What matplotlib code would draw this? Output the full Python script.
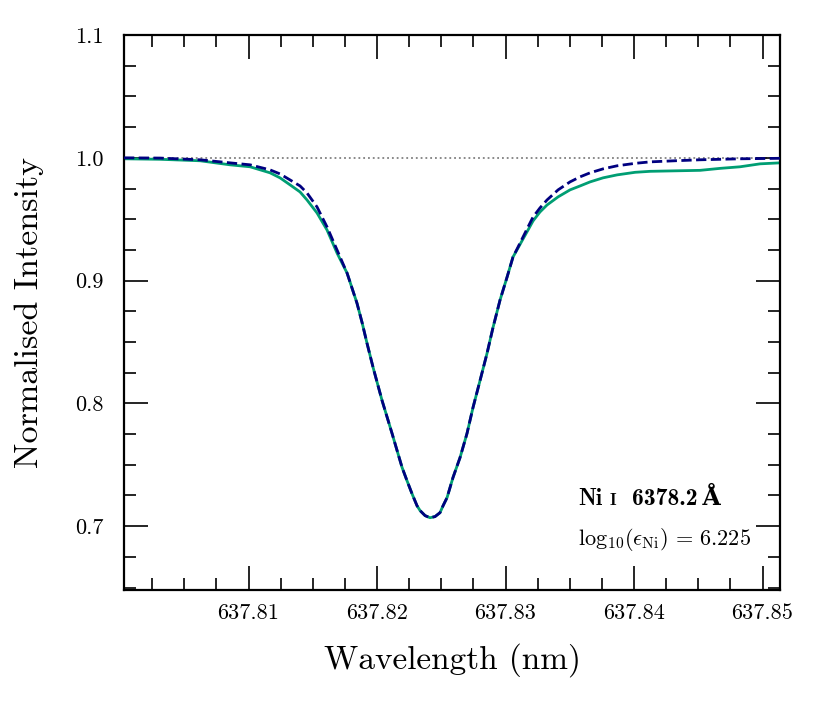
import matplotlib
matplotlib.use('Agg')
import matplotlib.pyplot as plt
from matplotlib.ticker import MultipleLocator, FormatStrFormatter

plt.rcParams['font.family'] = 'serif'
plt.rcParams['font.serif'] = ['cmr10', 'DejaVu Serif']
plt.rcParams['mathtext.fontset'] = 'cm'
plt.rcParams['axes.formatter.use_mathtext'] = True

# synthetic (model) profile
wl_model = [637.80031, 637.80311, 637.80623, 637.80856, 637.81012, 637.81167,
            637.81245, 637.81323, 637.81401, 637.81455, 637.81533, 637.81611,
            637.81689, 637.81767, 637.81844, 637.81883, 637.81922, 637.81969,
            637.82039, 637.82117, 637.82156, 637.82195, 637.82233, 637.82272,
            637.82311, 637.82335, 637.82374, 637.82412, 637.82451, 637.82490,
            637.82514, 637.82545, 637.82591, 637.82646, 637.82700, 637.82747,
            637.82802, 637.82856, 637.82903, 637.82957, 637.83012, 637.83058,
            637.83097, 637.83136, 637.83175, 637.83214, 637.83268, 637.83323,
            637.83409, 637.83502, 637.83580, 637.83658, 637.83759, 637.83868,
            637.84008, 637.84125, 637.84319, 637.84514, 637.84825, 637.85136]
int_model = [1.0000, 0.9998, 0.9984, 0.9959, 0.9943, 0.9902,
             0.9869, 0.9820, 0.9771, 0.9714, 0.9600, 0.9437,
             0.9249, 0.9061, 0.8816, 0.8661, 0.8490, 0.8294,
             0.8024, 0.7755, 0.7616, 0.7478, 0.7371, 0.7265,
             0.7167, 0.7127, 0.7086, 0.7069, 0.7078, 0.7110,
             0.7167, 0.7233, 0.7396, 0.7559, 0.7755, 0.7967,
             0.8188, 0.8408, 0.8620, 0.8841, 0.9029, 0.9192,
             0.9273, 0.9355, 0.9437, 0.9518, 0.9592, 0.9657,
             0.9739, 0.9804, 0.9845, 0.9878, 0.9910, 0.9935,
             0.9955, 0.9967, 0.9976, 0.9984, 0.9992, 0.9996]

# observed profile
wl_obs = [637.80031, 637.80311, 637.80623, 637.80856, 637.81012, 637.81167,
          637.81245, 637.81323, 637.81401, 637.81455, 637.81533, 637.81611,
          637.81689, 637.81767, 637.81844, 637.81883, 637.81922, 637.81969,
          637.82039, 637.82117, 637.82156, 637.82195, 637.82233, 637.82272,
          637.82311, 637.82335, 637.82374, 637.82412, 637.82451, 637.82490,
          637.82514, 637.82545, 637.82591, 637.82646, 637.82700, 637.82747,
          637.82802, 637.82856, 637.82903, 637.82957, 637.83012, 637.83058,
          637.83097, 637.83136, 637.83175, 637.83214, 637.83268, 637.83323,
          637.83409, 637.83502, 637.83580, 637.83658, 637.83759, 637.83868,
          637.84008, 637.84125, 637.84319, 637.84514, 637.84669, 637.84825,
          637.84981, 637.85136]
int_obs = [0.9992, 0.9988, 0.9976, 0.9943, 0.9927, 0.9878,
           0.9837, 0.9780, 0.9722, 0.9657, 0.9551, 0.9412,
           0.9224, 0.9061, 0.8816, 0.8661, 0.8490, 0.8294,
           0.8024, 0.7755, 0.7616, 0.7478, 0.7371, 0.7265,
           0.7167, 0.7127, 0.7086, 0.7069, 0.7078, 0.7110,
           0.7167, 0.7233, 0.7396, 0.7559, 0.7755, 0.7967,
           0.8188, 0.8408, 0.8620, 0.8841, 0.9029, 0.9192,
           0.9265, 0.9339, 0.9412, 0.9486, 0.9559, 0.9616,
           0.9682, 0.9739, 0.9771, 0.9804, 0.9837, 0.9861,
           0.9882, 0.9890, 0.9894, 0.9898, 0.9914, 0.9927,
           0.9951, 0.9959]

continuum = 1.0
species = 'Ni'
ion = 'I'
line_wl = '6378.2'
abundance = 6.225

fig = plt.figure(figsize=(8.3, 7.12), dpi=100)
ax = fig.add_axes([0.1494, 0.1713, 0.7904, 0.7795])

ax.axhline(continuum, color='gray', ls=':', lw=1.3, zorder=1)
ax.plot(wl_obs, int_obs, color='#009E73', lw=2.0, zorder=2)
ax.plot(wl_model, int_model, color='navy', lw=2.0, ls='--', zorder=3)

ax.set_xlim(min(wl_obs), max(wl_obs))
ax.set_ylim(0.648, 1.1)

ax.xaxis.set_major_locator(MultipleLocator(0.01))
ax.xaxis.set_minor_locator(MultipleLocator(0.0025))
ax.yaxis.set_major_locator(MultipleLocator(0.1))
ax.yaxis.set_minor_locator(MultipleLocator(0.025))
ax.xaxis.set_major_formatter(FormatStrFormatter('%.2f'))
ax.yaxis.set_major_formatter(FormatStrFormatter('%.1f'))

ax.tick_params(which='both', direction='in', top=True, right=True,
               labelsize=16)
ax.tick_params(axis='x', which='both', pad=10)
ax.tick_params(axis='y', which='both', pad=15)
ax.tick_params(which='major', length=17, width=1.2)
ax.tick_params(which='minor', length=8.5, width=1.2)
for sp in ax.spines.values():
    sp.set_linewidth(1.6)

ax.set_xlabel('Wavelength (nm)', fontsize=24, labelpad=14)
ax.set_ylabel('Normalised Intensity', fontsize=24.5, labelpad=22)

# line annotation
bold = dict(transform=ax.transAxes, va='baseline', fontweight='bold',
            family=['cmb10', 'DejaVu Serif'])
ax.text(0.692, 0.153, species, fontsize=16.5, **bold)
ax.text(0.740, 0.153, ion, fontsize=12, **bold)
ax.text(0.774, 0.153, line_wl + '\u2009\u00c5', fontsize=17, **bold)
ax.text(0.692, 0.081,
        r'$\mathrm{log}_{10}(\epsilon_{\mathrm{Ni}})\,=\,%.3f$' % abundance,
        transform=ax.transAxes, fontsize=16, va='baseline')

fig.savefig('out.png', dpi=100)
